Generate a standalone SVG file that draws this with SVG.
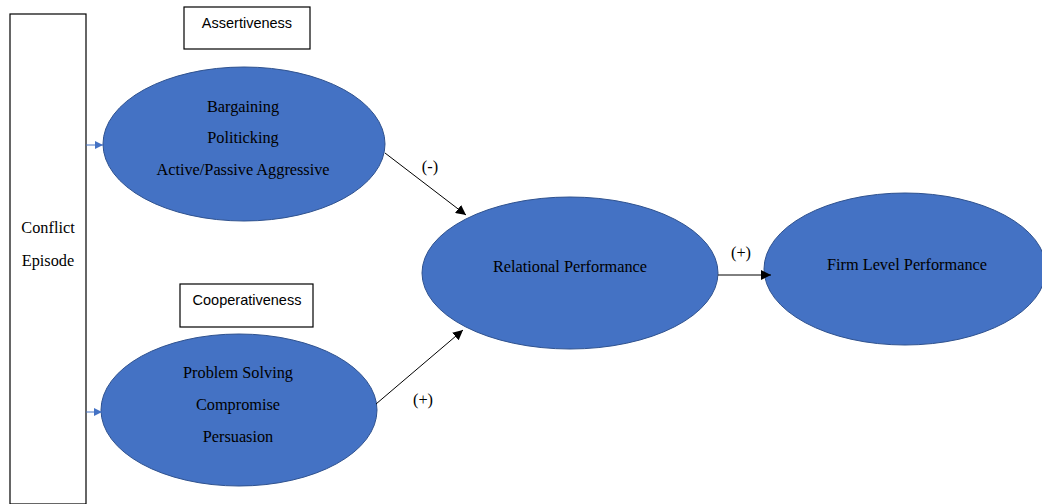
<svg xmlns="http://www.w3.org/2000/svg" width="1042" height="504" viewBox="0 0 1042 504">
<style>
.ell{fill:#4472C4;stroke:#2F528F;stroke-width:1}
.box{fill:#fff;stroke:#000;stroke-width:1.2}
.t{font-family:"Liberation Serif","Times New Roman",serif;font-size:16.3px;fill:#000;text-anchor:middle}
.s{font-family:"Liberation Sans",Arial,sans-serif;font-size:14.5px;fill:#000;text-anchor:middle}
.c{stroke:#000;stroke-width:1;fill:none}
.cb{stroke:#4472C4;stroke-width:1;fill:none}
</style>
<defs>
<marker id="ah" viewBox="0 0 10 10" refX="10" refY="5" markerWidth="10" markerHeight="10" markerUnits="userSpaceOnUse" orient="auto"><path d="M0,0L10,5L0,10z" fill="#000"/></marker>
<marker id="ahb" viewBox="0 0 10 10" refX="10" refY="5" markerWidth="8" markerHeight="8" markerUnits="userSpaceOnUse" orient="auto"><path d="M0,0L10,5L0,10z" fill="#4472C4"/></marker>
</defs>
<rect width="1042" height="504" fill="#fff"/>
<g id="conflict-episode">
<rect class="box" x="10" y="14" width="76" height="490"/>
<text class="t" x="48" y="233">Conflict</text>
<text class="t" x="48" y="266">Episode</text>
</g>
<g id="assertiveness">
<rect class="box" x="184" y="7" width="126" height="42"/>
<text class="s" x="247" y="28">Assertiveness</text>
</g>
<g id="cooperativeness">
<rect class="box" x="180" y="284" width="133" height="43"/>
<text class="s" x="247" y="305">Cooperativeness</text>
</g>
<g id="assertive-styles">
<ellipse class="ell" cx="244" cy="144" rx="141" ry="77"/>
<text class="t" x="243" y="112">Bargaining</text>
<text class="t" x="243" y="143">Politicking</text>
<text class="t" x="243" y="175">Active/Passive Aggressive</text>
</g>
<g id="cooperative-styles">
<ellipse class="ell" cx="239" cy="410" rx="138" ry="76"/>
<text class="t" x="238" y="378">Problem Solving</text>
<text class="t" x="238" y="410">Compromise</text>
<text class="t" x="238" y="442">Persuasion</text>
</g>
<g id="relational-performance">
<ellipse class="ell" cx="570" cy="273" rx="148" ry="76"/>
<text class="t" x="570" y="272">Relational Performance</text>
</g>
<g id="firm-level-performance">
<ellipse class="ell" cx="905" cy="269" rx="141" ry="76"/>
<text class="t" x="907" y="270">Firm Level Performance</text>
</g>
<g id="connectors">
<line class="cb" x1="86" y1="145" x2="103" y2="145" marker-end="url(#ahb)"/>
<line class="cb" x1="86" y1="412" x2="102" y2="412" marker-end="url(#ahb)"/>
<line class="c" x1="385" y1="153" x2="466" y2="215" marker-end="url(#ah)"/>
<line class="c" x1="376" y1="404" x2="463" y2="330" marker-end="url(#ah)"/>
<line class="c" x1="718" y1="275" x2="771" y2="275" marker-end="url(#ah)"/>
<text class="t" x="430" y="172">(-)</text>
<text class="t" x="423" y="405">(+)</text>
<text class="t" x="741" y="258">(+)</text>
</g>
</svg>
